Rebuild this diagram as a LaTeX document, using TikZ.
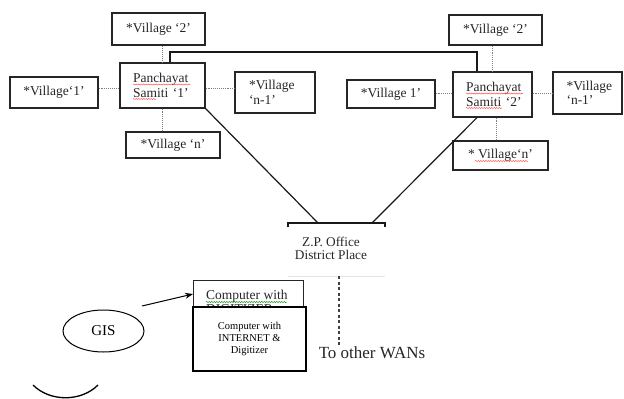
\documentclass[tikz,border=0pt]{standalone}
\usepackage{fontspec}
\setmainfont{Liberation Serif}
\usetikzlibrary{arrows.meta,decorations.pathmorphing,shapes.geometric}
\begin{document}
\begin{tikzpicture}[x=1pt,y=-1pt,
  txt/.style={text=black!85},
  box/.style={draw=black!85, line width=1.2pt, inner sep=0pt, txt, align=left, font=\fontsize{13.5}{14.5}\selectfont},
  link/.style={draw=gray, line width=0.9pt, densely dotted},
  main/.style={draw=black!90, line width=1.2pt},
  squig/.style={draw=red!70, line width=0.5pt, decorate, decoration={snake, amplitude=0.5pt, segment length=2.5pt}},
  gsquig/.style={draw=green!55!black, line width=0.5pt, decorate, decoration={snake, amplitude=0.5pt, segment length=2.5pt}}
]
\useasboundingbox (0,0) rectangle (624,399);

% left group
\node[box, minimum width=93, minimum height=32] (V2L) at (158.5,29) {*Village ‘2’};
\node[box, minimum width=85, minimum height=45, text width=59] (PS1) at (162.5,85.5) {Panchayat\\Samiti~‘1’};
\node[box, minimum width=88, minimum height=31] (V1L) at (54,92.5) {*Village‘1’};
\node[box, minimum width=80, minimum height=41, text width=52] (Vn1L) at (275,92.5) {*Village\\‘n-1’};
\node[box, minimum width=94, minimum height=26] (VnL) at (173,145) {*Village ‘n’};

% right group
\node[box, minimum width=93, minimum height=30] (V2R) at (495.5,30) {*Village ‘2’};
\node[box, minimum width=79, minimum height=45, text width=53] (PS2) at (492.5,94.5) {Panchayat\\Samiti~‘2’};
\node[box, minimum width=88, minimum height=28] (V1R) at (391,94) {*Village 1’};
\node[box, minimum width=69, minimum height=42, text width=42] (Vn1R) at (587.5,93) {*Village\\‘n-1’};
\node[box, minimum width=95, minimum height=29] (VnR) at (500.5,155.5) {* Village‘n’};

% spell-check underlines
\draw[squig] (133,84.5) -- (190,84.5);
\draw[squig] (133,99) -- (156,99);
\draw[squig] (466,93.5) -- (523,93.5);
\draw[squig] (466,108) -- (502,108);
\draw[squig] (475,161) -- (528,161);

% dotted links
\draw[link] (PS1.north) -- (PS1.north |- V2L.south);
\draw[link] (V1L.east |- 0,88) -- (PS1.west |- 0,88);
\draw[link] (PS1.east |- 0,88) -- (Vn1L.west |- 0,88);
\draw[link] (PS1.south) -- (PS1.south |- VnL.north);
\draw[link] (PS2.north) -- (PS2.north |- V2R.south);
\draw[link] (V1R.east |- 0,93) -- (PS2.west |- 0,93);
\draw[link] (PS2.east |- 0,93) -- (Vn1R.west |- 0,93);
\draw[link] (PS2.south -| 496,0) -- (VnR.north -| 496,0);

% main links
\draw[main] (PS1.north -| 170,0) -- (170,52) -- (477,52) -- (PS2.north -| 477,0);
\coordinate (bl) at (318,223);
\coordinate (br) at (372,223);
\draw[main] (PS1.south east) -- (bl);
\draw[main] (br) -- (PS2.south -| 477,0);
\draw[main] (288,227) -- (288,223) -- (385,223) -- (385,227);

\node[txt, align=center, font=\fontsize{13.3}{13.5}\selectfont] (zp) at (331,248.5) {Z.P. Office\\District Place};
\draw[gray!20, line width=1pt] (288,276) -- (385,276);
\coordinate (wtop) at (339,276);
\coordinate (wbot) at (339,345);
\draw[black!75, line width=1.1pt, dash pattern=on 3pt off 2.5pt] (wtop) -- (wbot);
\node[txt, font=\fontsize{17}{19}\selectfont] (wan) at (372,353) {To other WANs};

% computer boxes
\node[draw=black!85, line width=1.2pt, minimum width=110, minimum height=55, anchor=north west, inner sep=0pt] (cd) at (193,280) {};
\node[txt, anchor=base west, align=left, inner sep=0pt, font=\fontsize{13.5}{13.5}\selectfont] (cdt) at (206,313) {Computer with\\DIGITIZER};
\draw[gsquig] (206,302) -- (287,302);
\node[draw=black, line width=1.2pt, fill=white, minimum width=113, minimum height=64, inner sep=0pt, align=center, font=\fontsize{10.5}{12.3}\selectfont] (ci) at (249.5,339) {Computer with\\INTERNET \&\\Digitizer};

% GIS
\node[draw=black, ellipse, line width=1pt, minimum width=81, minimum height=42, inner sep=0pt, font=\fontsize{15}{17}\selectfont] (gis) at (103.5,331) {GIS};
\coordinate (as) at (142,306);
\draw[line width=1pt, -{Stealth[length=8pt,width=6pt]}] (as) -- (cd.north west |- 0,294);

% partial arc at bottom
\draw[line width=1.3pt] (33,385) .. controls (50,402) and (81,402) .. (98,385);
\end{tikzpicture}
\end{document}
